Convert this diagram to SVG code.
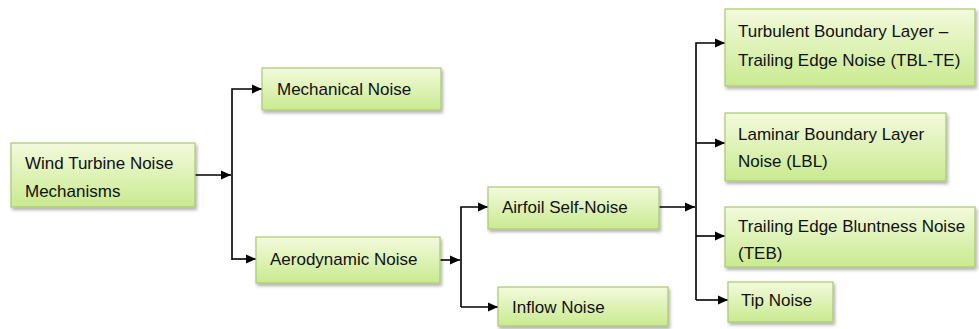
<svg xmlns="http://www.w3.org/2000/svg" width="979" height="329" viewBox="0 0 979 329">
<defs>
<linearGradient id="g" x1="0" y1="0" x2="0" y2="1">
<stop offset="0" stop-color="#f3fadc"/>
<stop offset="1" stop-color="#c9ea90"/>
</linearGradient>
<filter id="sh" x="-10%" y="-20%" width="125%" height="150%">
<feDropShadow dx="1.5" dy="2.5" stdDeviation="1.8" flood-color="#000" flood-opacity="0.3"/>
</filter>
<marker id="ah" viewBox="0 0 10 10" refX="10" refY="5" markerWidth="10" markerHeight="10" markerUnits="userSpaceOnUse" orient="auto">
<path d="M0,0.5 L10,5 L0,9.5 Z" fill="#000"/>
</marker>
</defs>
<style>
.box{fill:url(#g);stroke:#a9c872;stroke-width:1.2;filter:url(#sh)}
.t{font-family:"Liberation Sans",Arial,sans-serif;font-size:17px;fill:#111}
.c{fill:none;stroke:#000;stroke-width:1.6}
.a{fill:none;stroke:#000;stroke-width:1.6;marker-end:url(#ah)}
</style>
<rect width="979" height="329" fill="#fff"/>
<g id="connectors">
<line class="a" x1="195" y1="175" x2="231" y2="175"/>
<path class="a" d="M232,260 V89 H262"/>
<path class="a" d="M232,259 H256"/>
<line class="a" x1="440" y1="260" x2="460" y2="260"/>
<path class="a" d="M461,307 V207 H488"/>
<path class="a" d="M461,307 H498"/>
<line class="a" x1="659" y1="207" x2="695" y2="207"/>
<path class="a" d="M696,300 V43 H725"/>
<path class="a" d="M696,143 H725"/>
<path class="a" d="M696,236 H725"/>
<path class="a" d="M696,300 H728"/>
</g>
<g id="n-wind"><rect class="box" x="11" y="143" width="184" height="64"/><text class="t" x="25" y="169">Wind Turbine Noise</text><text class="t" x="25" y="197">Mechanisms</text></g>
<g id="n-mech"><rect class="box" x="262" y="68" width="179" height="42"/><text class="t" x="277" y="95">Mechanical Noise</text></g>
<g id="n-aero"><rect class="box" x="256" y="237" width="184" height="46"/><text class="t" x="270" y="265">Aerodynamic Noise</text></g>
<g id="n-airfoil"><rect class="box" x="488" y="187" width="171" height="42"/><text class="t" x="502" y="213">Airfoil Self-Noise</text></g>
<g id="n-inflow"><rect class="box" x="498" y="287" width="170" height="39"/><text class="t" x="512" y="313">Inflow Noise</text></g>
<g id="n-tbl"><rect class="box" x="725" y="9" width="250" height="77"/><text class="t" x="738" y="37">Turbulent Boundary Layer –</text><text class="t" x="738" y="66">Trailing Edge Noise (TBL-TE)</text></g>
<g id="n-lbl"><rect class="box" x="725" y="113" width="221" height="68"/><text class="t" x="738" y="140">Laminar Boundary Layer</text><text class="t" x="738" y="167">Noise (LBL)</text></g>
<g id="n-teb"><rect class="box" x="725" y="207" width="250" height="60"/><text class="t" x="738" y="232">Trailing Edge Bluntness Noise</text><text class="t" x="738" y="259">(TEB)</text></g>
<g id="n-tip"><rect class="box" x="728" y="282" width="105" height="40"/><text class="t" x="741" y="306">Tip Noise</text></g>
</svg>
